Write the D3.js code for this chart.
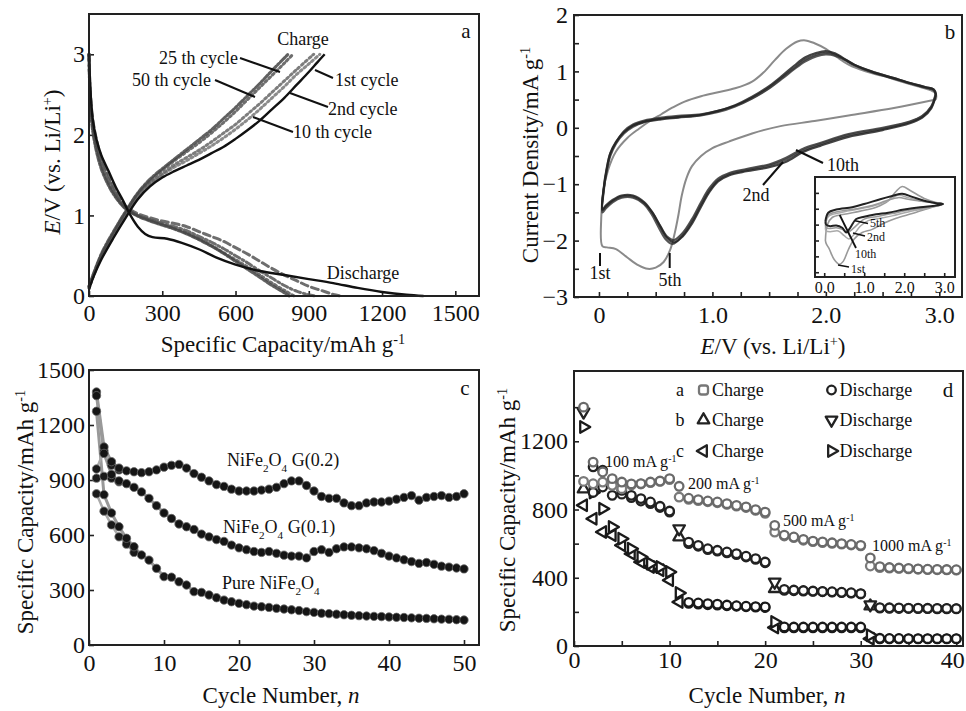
<!DOCTYPE html>
<html><head><meta charset="utf-8">
<script src="https://cdn.jsdelivr.net/npm/d3@7"></script>
<style>
body{margin:0;background:#fff}
svg text{font-family:"Liberation Serif","Times New Roman",serif;fill:#111}
</style>
</head><body>
<svg id="c" width="966" height="711"></svg>
<script>
// ---------------- DATA ----------------
// Panel a: charge/discharge profiles [capacity mAh/g, E V]
const aDis1 = [[0,3.0],[5,2.6],[15,2.2],[30,1.95],[50,1.75],[80,1.55],[110,1.35],[140,1.18],[170,1.0],[200,0.86],[230,0.77],[260,0.73],[320,0.71],[380,0.66],[450,0.58],[520,0.48],[600,0.39],[700,0.31],[800,0.26],[900,0.21],[1000,0.16],[1100,0.1],[1200,0.05],[1300,0.015],[1370,0]];
const aCh1 = [[0,0.08],[20,0.25],[50,0.45],[100,0.72],[150,0.97],[200,1.2],[250,1.36],[300,1.47],[350,1.55],[400,1.62],[450,1.69],[500,1.77],[550,1.85],[600,1.95],[650,2.06],[700,2.18],[750,2.32],[800,2.46],[850,2.62],[900,2.78],[935,2.9],[965,3.0]];
const aDis2 = [[0,3.0],[5,2.55],[15,2.2],[30,1.95],[50,1.72],[80,1.5],[110,1.3],[140,1.15],[170,1.07],[200,1.02],[250,0.97],[300,0.93],[350,0.9],[400,0.86],[450,0.8],[500,0.74],[550,0.68],[600,0.6],[650,0.52],[700,0.43],[750,0.34],[800,0.26],[850,0.19],[900,0.12],[950,0.07],[1000,0.02],[1030,0]];
const aCh2 = [[0,0.1],[50,0.48],[100,0.75],[150,1.0],[200,1.22],[250,1.38],[300,1.5],[350,1.6],[400,1.68],[450,1.77],[500,1.86],[550,1.96],[600,2.07],[650,2.19],[700,2.32],[750,2.46],[800,2.6],[850,2.75],[900,2.88],[945,3.0]];
const aDis10 = [[0,3.0],[5,2.5],[15,2.15],[30,1.9],[50,1.68],[80,1.45],[110,1.27],[140,1.13],[170,1.05],[200,1.0],[250,0.95],[300,0.9],[350,0.86],[400,0.81],[450,0.74],[500,0.67],[550,0.59],[600,0.5],[650,0.41],[700,0.31],[750,0.22],[800,0.13],[850,0.06],[900,0.015],[930,0]];
const aCh10 = [[0,0.1],[50,0.5],[100,0.77],[150,1.02],[200,1.24],[250,1.4],[300,1.52],[350,1.63],[400,1.72],[450,1.81],[500,1.91],[550,2.02],[600,2.13],[650,2.26],[700,2.39],[750,2.53],[800,2.67],[850,2.81],[920,3.0]];
const aDis25 = [[0,3.0],[5,2.45],[15,2.1],[30,1.85],[50,1.62],[80,1.4],[110,1.24],[140,1.12],[170,1.05],[200,1.0],[250,0.94],[300,0.89],[350,0.84],[400,0.78],[450,0.71],[500,0.63],[550,0.54],[600,0.45],[650,0.36],[700,0.26],[750,0.16],[800,0.07],[840,0]];
const aCh25 = [[0,0.12],[50,0.5],[100,0.78],[150,1.04],[200,1.27],[250,1.43],[300,1.56],[350,1.68],[400,1.79],[450,1.9],[500,2.02],[550,2.15],[600,2.29],[650,2.44],[700,2.59],[750,2.74],[800,2.89],[835,3.0]];
const aDis50 = [[0,3.0],[5,2.4],[15,2.05],[30,1.8],[50,1.58],[80,1.37],[110,1.22],[140,1.11],[170,1.04],[200,0.99],[250,0.93],[300,0.88],[350,0.83],[400,0.77],[450,0.7],[500,0.62],[550,0.53],[600,0.43],[650,0.33],[700,0.23],[750,0.13],[800,0.04],[820,0]];
const aCh50 = [[0,0.12],[50,0.52],[100,0.8],[150,1.05],[200,1.28],[250,1.45],[300,1.58],[350,1.7],[400,1.82],[450,1.94],[500,2.06],[550,2.2],[600,2.34],[650,2.49],[700,2.64],[750,2.8],[815,3.0]];
const aXTicks = [0,300,600,900,1200,1500];
const aYTicks = [0,1,2,3];

// Panel b: cyclic voltammograms [E V, current]
const cv1 = [[2.97,0.5],[2.6,0.35],[2.2,0.22],[1.9,0.12],[1.6,0.03],[1.35,-0.1],[1.15,-0.24],[1.0,-0.36],[0.9,-0.5],[0.82,-0.68],[0.77,-0.9],[0.73,-1.2],[0.7,-1.55],[0.67,-1.85],[0.63,-2.15],[0.57,-2.38],[0.5,-2.48],[0.43,-2.5],[0.35,-2.44],[0.25,-2.3],[0.15,-2.15],[0.07,-2.12],[0.03,-2.1],[0.02,-1.6],[0.04,-1.1],[0.08,-0.75],[0.15,-0.42],[0.25,-0.18],[0.35,-0.02],[0.45,0.12],[0.55,0.24],[0.65,0.36],[0.75,0.46],[0.9,0.56],[1.05,0.63],[1.2,0.7],[1.35,0.82],[1.45,0.98],[1.55,1.2],[1.65,1.4],[1.75,1.53],[1.82,1.55],[1.9,1.5],[2.0,1.4],[2.1,1.25],[2.2,1.12],[2.35,1.0],[2.5,0.92],[2.65,0.83],[2.8,0.74],[2.92,0.67],[2.97,0.6],[2.97,0.5]];
const cv2 = [[2.97,0.58],[2.93,0.35],[2.85,0.18],[2.74,0.08],[2.5,-0.04],[2.2,-0.16],[1.95,-0.32],[1.8,-0.43],[1.65,-0.6],[1.5,-0.7],[1.3,-0.77],[1.15,-0.84],[1.05,-0.95],[0.97,-1.15],[0.9,-1.4],[0.82,-1.7],[0.74,-1.92],[0.66,-2.03],[0.6,-1.95],[0.54,-1.75],[0.47,-1.5],[0.4,-1.32],[0.3,-1.2],[0.2,-1.2],[0.12,-1.28],[0.06,-1.38],[0.03,-1.45],[0.04,-1.1],[0.07,-0.7],[0.1,-0.45],[0.15,-0.25],[0.22,-0.08],[0.3,0.04],[0.4,0.11],[0.55,0.16],[0.7,0.19],[0.9,0.23],[1.05,0.3],[1.2,0.4],[1.35,0.55],[1.5,0.74],[1.62,0.93],[1.72,1.1],[1.82,1.25],[1.92,1.33],[2.0,1.36],[2.08,1.32],[2.15,1.24],[2.25,1.12],[2.4,1.0],[2.6,0.88],[2.75,0.79],[2.88,0.72],[2.95,0.68],[2.97,0.58]];
const cv5 = [[2.97,0.6],[2.93,0.37],[2.85,0.2],[2.74,0.1],[2.5,-0.02],[2.2,-0.13],[1.95,-0.29],[1.8,-0.4],[1.65,-0.56],[1.5,-0.67],[1.3,-0.75],[1.15,-0.82],[1.05,-0.93],[0.97,-1.12],[0.9,-1.36],[0.82,-1.66],[0.74,-1.9],[0.65,-2.06],[0.59,-1.98],[0.53,-1.78],[0.46,-1.52],[0.4,-1.36],[0.3,-1.24],[0.2,-1.24],[0.12,-1.32],[0.06,-1.43],[0.03,-1.5],[0.04,-1.15],[0.07,-0.75],[0.1,-0.5],[0.15,-0.28],[0.22,-0.1],[0.3,0.02],[0.4,0.1],[0.55,0.15],[0.7,0.18],[0.9,0.22],[1.05,0.28],[1.2,0.38],[1.35,0.52],[1.5,0.7],[1.62,0.88],[1.72,1.04],[1.82,1.18],[1.92,1.27],[2.0,1.3],[2.08,1.28],[2.15,1.22],[2.25,1.11],[2.4,0.99],[2.6,0.87],[2.75,0.78],[2.88,0.71],[2.95,0.67],[2.97,0.6]];
const cv10 = [[2.97,0.62],[2.93,0.38],[2.85,0.21],[2.74,0.11],[2.5,0.0],[2.2,-0.11],[1.95,-0.27],[1.8,-0.37],[1.65,-0.53],[1.5,-0.65],[1.3,-0.73],[1.15,-0.8],[1.05,-0.9],[0.97,-1.08],[0.9,-1.32],[0.82,-1.62],[0.74,-1.86],[0.66,-1.99],[0.6,-1.93],[0.54,-1.74],[0.47,-1.5],[0.4,-1.34],[0.3,-1.22],[0.2,-1.22],[0.12,-1.3],[0.06,-1.4],[0.03,-1.46],[0.04,-1.12],[0.07,-0.72],[0.1,-0.46],[0.15,-0.26],[0.22,-0.06],[0.3,0.06],[0.4,0.13],[0.55,0.18],[0.7,0.21],[0.9,0.24],[1.05,0.3],[1.2,0.39],[1.35,0.53],[1.5,0.71],[1.62,0.9],[1.72,1.06],[1.82,1.21],[1.92,1.3],[2.0,1.33],[2.08,1.3],[2.15,1.23],[2.25,1.12],[2.4,1.0],[2.6,0.88],[2.75,0.79],[2.88,0.72],[2.95,0.68],[2.97,0.62]];
const bXTicks = [0,1,2,3];
const bXMinor = [0.25,0.5,0.75,1.25,1.5,1.75,2.25,2.5,2.75,3.25];
const bYTicks = [-3,-2,-1,0,1,2];
const bYMinor = [-2.5,-1.5,-0.5,0.5,1.5];
// inset CVs
const inA = [[0.03,0.2],[0.1,0.75],[0.3,0.95],[0.7,1.1],[1.0,1.3],[1.4,1.6],[1.7,1.8],[1.95,1.95],[2.2,1.75],[2.5,1.5],[2.8,1.35],[2.97,1.3],[2.8,1.2],[2.4,1.1],[2.0,0.95],[1.6,0.75],[1.3,0.65],[1.0,0.5],[0.8,0.35],[0.65,-0.2],[0.55,-0.5],[0.45,-0.2],[0.3,-0.05],[0.15,-0.1],[0.05,0.0],[0.03,0.2]];
const inB = [[0.03,-1.0],[0.08,0.0],[0.2,0.45],[0.5,0.65],[0.9,0.85],[1.3,1.1],[1.6,1.5],[1.8,2.1],[1.95,2.4],[2.15,2.15],[2.5,1.65],[2.8,1.4],[2.97,1.3],[2.7,1.1],[2.2,0.7],[1.8,0.4],[1.5,0.1],[1.2,-0.3],[0.95,-0.5],[0.75,-0.9],[0.6,-1.6],[0.48,-2.3],[0.38,-2.5],[0.25,-2.2],[0.12,-1.5],[0.05,-1.2],[0.03,-1.0]];
const inC = [[0.03,-0.3],[0.1,0.5],[0.4,0.75],[0.8,0.95],[1.2,1.15],[1.55,1.45],[1.85,1.85],[2.1,1.7],[2.5,1.45],[2.97,1.3],[2.6,1.05],[2.1,0.8],[1.7,0.55],[1.4,0.4],[1.1,0.25],[0.9,-0.1],[0.75,-0.6],[0.62,-0.9],[0.5,-0.7],[0.35,-0.4],[0.15,-0.45],[0.05,-0.4],[0.03,-0.3]];
const inD = [[0.03,0.0],[0.1,0.6],[0.4,0.85],[0.8,1.0],[1.2,1.2],[1.55,1.5],[1.85,1.7],[2.1,1.6],[2.5,1.45],[2.97,1.3],[2.6,1.1],[2.1,0.9],[1.7,0.7],[1.3,0.5],[1.0,0.35],[0.85,0.05],[0.7,-0.3],[0.58,-0.5],[0.45,-0.3],[0.3,-0.2],[0.12,-0.25],[0.05,-0.2],[0.03,0.0]];
const inXTicks = [0,1,2,3];
const inXMinor = [0.5,1.5,2.5];
const inYTicks = [-3,-2,-1,0,1,2];

// Panel c: cycling performance (discharge capacity per cycle 1..50)
const cycC = d3.range(1,51);
const cG02 = [1380,1080,1000,965,950,945,940,945,955,970,980,985,965,935,915,895,875,865,850,840,840,840,845,850,860,880,895,895,870,840,810,800,800,775,760,760,775,780,780,785,795,805,815,790,805,810,815,805,810,825];
const cG01 = [1360,1045,930,895,880,860,835,800,760,720,690,660,645,630,605,590,575,565,545,530,520,510,505,510,500,490,485,485,475,510,520,505,525,535,535,530,525,515,500,485,475,465,455,445,450,440,430,425,420,415];
const cPure = [1275,820,720,645,582,536,491,463,418,373,370,345,327,291,287,273,258,245,236,227,220,212,209,205,200,196,192,188,182,178,173,171,168,165,162,160,158,156,155,153,151,150,148,146,145,143,141,140,138,136];
const cG02Ch = [960,1060,980,955];
const cG01Ch = [910,920,910,890];
const cPureCh = [825,730,655,590,550,505];
const cXTicks = [0,10,20,30,40,50];
const cYTicks = [0,300,600,900,1200,1500];

// Panel d: rate capability, cycles 1..40
const cycD = d3.range(1,41);
const dAch = [965,951,961,942,922,945,950,958,965,975,873,860,852,846,840,830,820,812,795,778,668,645,635,620,612,606,602,597,592,587,469,460,457,455,452,450,448,447,446,445];
const dAdis = [1400,1078,1020,981,961,950,952,961,967,981,936,866,858,850,844,834,824,815,799,785,707,650,639,625,615,610,605,600,595,590,516,465,460,457,455,452,450,449,448,447];
const dBch = [920,900,932,883,890,870,850,835,812,785,639,600,585,565,556,546,536,522,508,488,336,326,324,322,320,318,316,313,310,305,234,222,221,220,220,219,219,218,218,218];
const dBdis = [1372,1050,1030,961,912,883,864,844,819,791,688,609,590,570,561,551,541,526,512,492,375,332,328,325,322,320,318,315,312,307,242,225,224,223,222,222,221,220,220,219];
const dCch = [825,746,668,649,590,541,492,463,444,385,258,250,246,242,240,236,233,230,228,226,108,106,106,106,106,106,106,106,106,106,43,42,42,42,42,42,42,42,42,42];
const dCdis = [1284,900,805,698,629,570,522,483,463,434,311,256,252,248,245,240,236,233,231,229,141,112,111,111,111,111,111,111,111,111,63,45,44,44,43,43,43,43,43,43];
const dXTicks = [0,10,20,30,40];
const dXMinor = [5,15,25,35];
const dYTicks = [0,400,800,1200];
const dYMinor = [200,600,1000,1400];
const rateLabels = ["100","200","500","1000"];

// ---------------- DRAW ----------------
const svg = d3.select("#c");
const FONT = 23;
const TICKFONT = 24;

function panel(o){
  const g = svg.append("g");
  const x = d3.scaleLinear().domain(o.xd).range([o.l,o.r]);
  const y = d3.scaleLinear().domain(o.yd).range([o.b,o.t]);
  g.append("rect").attr("x",o.l).attr("y",o.t).attr("width",o.r-o.l).attr("height",o.b-o.t)
    .attr("fill",o.fill||"none");
  const fs = o.fs||TICKFONT;
  const axX = g.append("g").attr("transform",`translate(0,${o.b})`)
    .call(d3.axisBottom(x).tickValues(o.xt).tickSize(-(o.tl||5)).tickSizeOuter(0).tickPadding(o.xp).tickFormat(o.xf||d3.format("d")));
  if(o.xm) g.append("g").attr("transform",`translate(0,${o.b})`)
    .call(d3.axisBottom(x).tickValues(o.xm).tickSize(-(o.tl||5)).tickSizeOuter(0).tickFormat(""));
  const ay = g.append("g").attr("transform",`translate(${o.l},0)`)
    .call(d3.axisLeft(y).tickValues(o.yt).tickSize(-(o.tl||5)).tickSizeOuter(0).tickPadding(o.yp).tickFormat(o.yf||d3.format("d")));
  if(o.ym) g.append("g").attr("transform",`translate(${o.l},0)`)
    .call(d3.axisLeft(y).tickValues(o.ym).tickSize(-(o.tl||5)).tickSizeOuter(0).tickFormat(""));
  g.selectAll(".domain").remove();
  g.selectAll(".tick line").attr("stroke","#222").attr("stroke-width",1.6);
  g.selectAll(".tick text").attr("font-family",'"Liberation Serif",serif').attr("font-size",fs).attr("fill","#111");
  if(o.noYLabels) ay.selectAll("text").remove();
  if(o.lastXdx) axX.selectAll(".tick text").filter((d,i,n)=>i===n.length-1).attr("dx",o.lastXdx);
  const plot = g.append("g");
  g.append("rect").attr("x",o.l).attr("y",o.t).attr("width",o.r-o.l).attr("height",o.b-o.t)
    .attr("fill","none").attr("stroke","#222").attr("stroke-width",2);
  return {g,x,y,plot};
}

function addText(par, x, y, parts, opts){
  opts = opts||{};
  const t = par.append("text").attr("x",x).attr("y",y).attr("font-size",opts.fs||FONT)
    .attr("text-anchor",opts.anchor||"start");
  if(opts.rotate) t.attr("transform",`rotate(-90,${x},${y})`);
  parts.forEach(p=>{
    if(typeof p==="string"){ t.append("tspan").text(p); }
    else {
      const s = t.append("tspan").text(p.t);
      if(p.it) s.attr("font-style","italic");
      if(p.sup) s.attr("baseline-shift","super").attr("font-size",(opts.fs||FONT)*0.62);
      if(p.sub) s.attr("baseline-shift","sub").attr("font-size",(opts.fs||FONT)*0.62);
    }
  });
  return t;
}
function leader(par,x1,y1,x2,y2,w){
  par.append("line").attr("x1",x1).attr("y1",y1).attr("x2",x2).attr("y2",y2)
    .attr("stroke","#111").attr("stroke-width",w||2);
}

// ----- Panel a -----
{
  const P = panel({l:89,r:479,t:14,b:296,xd:[0,1597],yd:[0,3.5],xt:aXTicks,yt:aYTicks,xp:8,yp:4});
  const line = d3.line().x(d=>P.x(d[0])).y(d=>P.y(d[1])).curve(d3.curveCatmullRom);
  const styles = [
    {d:aDis2,dash:"7,4",c:"#555"},{d:aCh2,dash:"2,3",c:"#777"},
    {d:aDis10,dash:"6,3,2,3",c:"#555"},{d:aCh10,dash:"2,3",c:"#666"},
    {d:aDis25,dash:"2,3",c:"#555"},{d:aCh25,dash:"2,3",c:"#555"},
    {d:aDis50,dash:"2,2,5,2",c:"#444"},{d:aCh50,dash:"6,2,2,2",c:"#444"}
  ];
  styles.forEach(s=>P.plot.append("path").attr("d",line(s.d)).attr("fill","none")
    .attr("stroke",s.c).attr("stroke-width",3).attr("stroke-dasharray",s.dash).attr("stroke-linecap","round").attr("opacity",0.85));
  [aDis1,aCh1].forEach(d=>P.plot.append("path").attr("d",line(d)).attr("fill","none").attr("stroke","#111").attr("stroke-width",2.4));
  const fs=18;
  addText(P.g,303,45,["Charge"],{fs,anchor:"middle"});
  addText(P.g,238,64,["25 th cycle"],{fs,anchor:"end"}); leader(P.g,240,58,280,72);
  addText(P.g,211,86,["50 th cycle"],{fs,anchor:"end"}); leader(P.g,215,80,255,97);
  addText(P.g,335,86,["1st cycle"],{fs}); leader(P.g,315,70,333,78);
  addText(P.g,328,115,["2nd cycle"],{fs}); leader(P.g,290,93,328,107);
  addText(P.g,293,138,["10 th cycle"],{fs}); leader(P.g,253,117,293,132);
  addText(P.g,363,279,["Discharge"],{fs,anchor:"middle"});
  addText(P.g,466,38,["a"],{fs:21,anchor:"middle"});
  addText(svg,283,352,["Specific Capacity/mAh g",{t:"-1",sup:true}],{anchor:"middle"});
  addText(svg,60,162,[{t:"E",it:true},"/V (vs. Li/Li",{t:"+",sup:true},")"],{anchor:"middle",rotate:true});
}

// ----- Panel b -----
{
  const P = panel({l:574,r:962,t:15,b:297,xd:[-0.22,3.2],yd:[-3,2],xt:bXTicks,xm:bXMinor,yt:bYTicks,ym:bYMinor,xp:9,yp:6,
    xf:d=>d===0?"0":d.toFixed(1)});
  const line = d3.line().x(d=>P.x(d[0])).y(d=>P.y(d[1])).curve(d3.curveCatmullRom);
  P.plot.append("path").attr("d",line(cv1)).attr("fill","none").attr("stroke","#8a8a8a").attr("stroke-width",2);
  [cv10,cv5,cv2].forEach((d,i)=>P.plot.append("path").attr("d",line(d)).attr("fill","none")
    .attr("stroke",["#333","#3a3a3a","#222"][i]).attr("stroke-width",2.2).attr("opacity",0.85));
  const fs=18;
  addText(P.g,600,279,["1st"],{fs,anchor:"middle"}); leader(P.g,600,253,600,266);
  addText(P.g,670,286,["5th"],{fs,anchor:"middle"}); leader(P.g,669.7,253,669.7,268);
  addText(P.g,756,201,["2nd"],{fs,anchor:"middle"}); leader(P.g,763,185,783,162);
  addText(P.g,843,171,["10th"],{fs,anchor:"middle"}); leader(P.g,796,150,823,163);
  addText(P.g,950,39,["b"],{fs:21,anchor:"middle"});
  // inset
  const I = panel({l:815,r:955,t:177,b:277,xd:[-0.23,3.27],yd:[-3.3,3.0],xt:inXTicks,xm:inXMinor,yt:inYTicks,xp:5,yp:3,
    xf:d=>d.toFixed(1),fs:16,tl:4,fill:"#fff",noYLabels:true});
  const il = d3.line().x(d=>I.x(d[0])).y(d=>I.y(d[1])).curve(d3.curveCatmullRom);
  [[inB,"#999",1.6],[inC,"#aaa",1.5],[inD,"#999",1.5],[inA,"#222",2]].forEach(s=>I.plot.append("path").attr("d",il(s[0]))
    .attr("fill","none").attr("stroke",s[1]).attr("stroke-width",s[2]));
  const ifs=12;
  addText(I.g,870,227,["5th"],{fs:ifs}); leader(I.g,855,220.7,868,223.5,1.5);
  addText(I.g,867,241,["2nd"],{fs:ifs}); leader(I.g,853,233,865,236,1.5);
  addText(I.g,855,258,["10th"],{fs:ifs}); leader(I.g,839.7,215,856,248,1.8);
  addText(I.g,851,273,["1st"],{fs:ifs}); leader(I.g,838,265,849,267,1.5);
  addText(svg,773,354,[{t:"E",it:true},"/V (vs. Li/Li",{t:"+",sup:true},")"],{anchor:"middle"});
  addText(svg,538,155,["Current Density/mA g",{t:"-1",sup:true}],{anchor:"middle",rotate:true});
}

// ----- Panel c -----
{
  const P = panel({l:89,r:479,t:370,b:645,xd:[0,52],yd:[0,1500],xt:cXTicks,yt:cYTicks,xp:9,yp:4});
  const line = d3.line().x(d=>P.x(d[0])).y(d=>P.y(d[1]));
  [cG02,cG01,cPure].forEach(s=>{
    P.plot.append("path").attr("d",line(s.map((v,i)=>[cycC[i],v]))).attr("fill","none").attr("stroke","#999").attr("stroke-width",3);
  });
  [cG02Ch,cG01Ch,cPureCh].forEach(s=>{
    P.plot.append("path").attr("d",line(s.map((v,i)=>[cycC[i],v]))).attr("fill","none").attr("stroke","#aaa").attr("stroke-width",2.5);
    P.plot.selectAll(null).data(s).enter().append("circle").attr("cx",(d,i)=>P.x(cycC[i])).attr("cy",d=>P.y(d))
      .attr("r",4.2).attr("fill","#1a1a1a").attr("stroke","#777").attr("stroke-width",0.8);
  });
  [cG02,cG01,cPure].forEach(s=>{
    P.plot.selectAll(null).data(s).enter().append("circle").attr("cx",(d,i)=>P.x(cycC[i])).attr("cy",d=>P.y(d))
      .attr("r",4.2).attr("fill","#151515").attr("stroke","#666").attr("stroke-width",0.8);
  });
  const fs=18;
  addText(P.g,227,466,["NiFe",{t:"2",sub:true},"O",{t:"4",sub:true}," G(0.2)"],{fs});
  addText(P.g,223,533,["NiFe",{t:"2",sub:true},"O",{t:"4",sub:true}," G(0.1)"],{fs});
  addText(P.g,222,589,["Pure NiFe",{t:"2",sub:true},"O",{t:"4",sub:true}],{fs});
  addText(P.g,465,395,["c"],{fs:21,anchor:"middle"});
  addText(svg,281,703,["Cycle Number, ",{t:"n",it:true}],{anchor:"middle"});
  addText(svg,33,512,["Specific Capacity/mAh g",{t:"-1",sup:true}],{anchor:"middle",rotate:true});
}

// ----- Panel d -----
{
  const P = panel({l:574,r:963,t:371,b:646,xd:[0,40.7],yd:[0,1612],xt:dXTicks,xm:dXMinor,yt:dYTicks,ym:dYMinor,xp:5,yp:6,lastXdx:-4});
  const tri = ()=>d3.symbol().type(d3.symbolTriangle).size(58)();
  function marker(g,x,y,kind,color){
    if(kind==="o"){
      g.append("circle").attr("cx",x).attr("cy",y).attr("r",4.3).attr("fill","#fff").attr("stroke",color).attr("stroke-width",2.3);
    } else if(kind==="sq"){
      g.append("rect").attr("x",x-4.5).attr("y",y-4.5).attr("width",9).attr("height",9).attr("rx",2.5)
        .attr("fill","#fff").attr("stroke",color).attr("stroke-width",2.3);
    } else {
      const rot = {up:0,down:180,left:-90,right:90}[kind];
      g.append("path").attr("d",tri()).attr("transform",`translate(${x},${y}) rotate(${rot})`)
        .attr("fill","#fff").attr("stroke",color).attr("stroke-width",2.3).attr("stroke-linejoin","round");
    }
  }
  const series = [
    {v:dCch,c:"#1a1a1a",first:"left",seg1:"left"},
    {v:dCdis,c:"#1a1a1a",first:"right",seg1:"right"},
    {v:dBch,c:"#222",first:"up",seg1:"o"},
    {v:dBdis,c:"#222",first:"down",seg1:"o"},
    {v:dAch,c:"#7a7a7a",first:"o",seg1:"o"},
    {v:dAdis,c:"#6a6a6a",first:"o",seg1:"o"}
  ];
  series.forEach(s=>{
    s.v.forEach((v,i)=>{
      const n = cycD[i];
      let kind = "o";
      if(i%10===0) kind = s.first;
      else if(i<10) kind = s.seg1;
      marker(P.plot,P.x(n),P.y(v),kind,s.c);
    });
  });
  // legend
  const fs=18;
  const rows = [["a","sq","o","#777","#222"],["b","up","down","#222","#222"],["c","left","right","#222","#222"]];
  const ly=[390,420,451];
  rows.forEach((r,i)=>{
    addText(P.g,680,ly[i]+6,[r[0]],{fs,anchor:"middle"});
    marker(P.g,703.5,ly[i],r[1],r[3]);
    addText(P.g,712,ly[i]+6,["Charge"],{fs});
    marker(P.g,831.5,ly[i],r[2],r[4]);
    addText(P.g,839.5,ly[i]+6,["Discharge"],{fs});
  });
  addText(P.g,948,397,["d"],{fs:21,anchor:"middle"});
  const rl = [[605,467],[688,489],[783,526],[872,551]];
  rateLabels.forEach((r,i)=>addText(P.g,rl[i][0],rl[i][1],[r+" mA g",{t:"-1",sup:true}],{fs:16}));
  addText(svg,767,703,["Cycle Number, ",{t:"n",it:true}],{anchor:"middle"});
  addText(svg,515,510,["Specific Capacity/mAh g",{t:"-1",sup:true}],{anchor:"middle",rotate:true});
}
</script>
</body></html>
